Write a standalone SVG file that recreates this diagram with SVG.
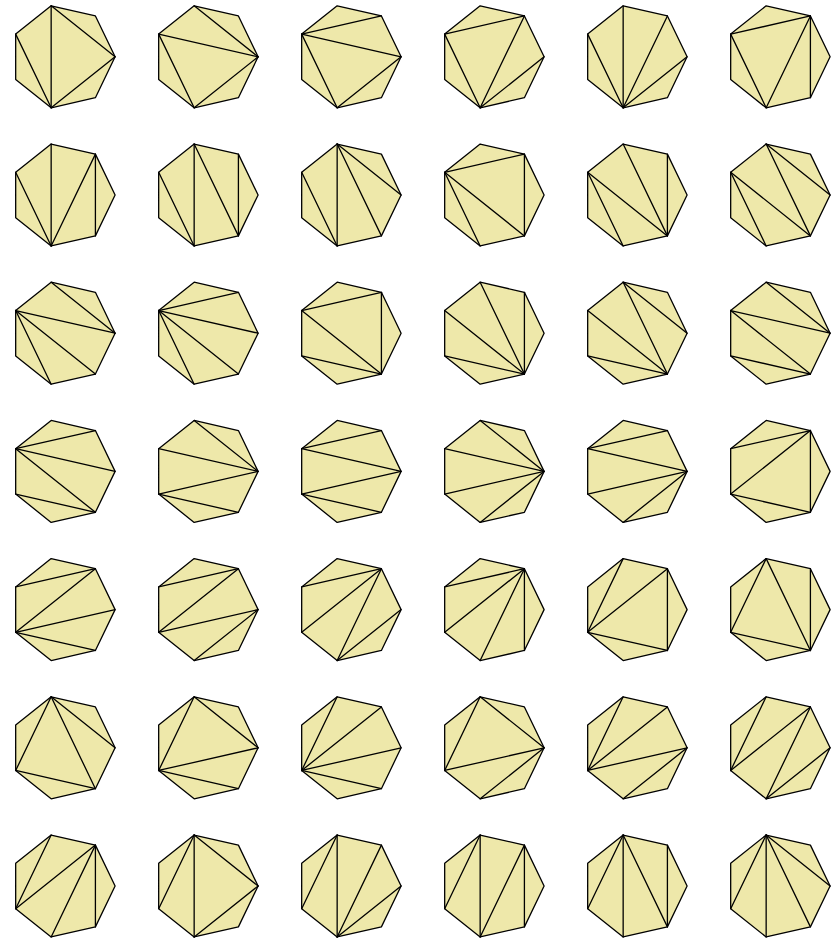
<svg xmlns="http://www.w3.org/2000/svg" xmlns:xlink="http://www.w3.org/1999/xlink" width="836" height="939" viewBox="0 0 836 939">
<style>
.hep{fill:#EEE8AA;stroke:#000;stroke-width:1.3;stroke-linejoin:round}
.dg{stroke:#000;stroke-width:1.3;stroke-linecap:round;fill:none}
</style>
<defs>
<polygon id="hep" class="hep" points="52.3,0 32.61,-40.89 -11.64,-50.99 -47.12,-22.69 -47.12,22.69 -11.64,50.99 32.61,40.89"/>
<line id="d02" class="dg" x1="52.3" y1="0" x2="-11.64" y2="-50.99"/>
<line id="d03" class="dg" x1="52.3" y1="0" x2="-47.12" y2="-22.69"/>
<line id="d04" class="dg" x1="52.3" y1="0" x2="-47.12" y2="22.69"/>
<line id="d05" class="dg" x1="52.3" y1="0" x2="-11.64" y2="50.99"/>
<line id="d13" class="dg" x1="32.61" y1="-40.89" x2="-47.12" y2="-22.69"/>
<line id="d14" class="dg" x1="32.61" y1="-40.89" x2="-47.12" y2="22.69"/>
<line id="d15" class="dg" x1="32.61" y1="-40.89" x2="-11.64" y2="50.99"/>
<line id="d16" class="dg" x1="32.61" y1="-40.89" x2="32.61" y2="40.89"/>
<line id="d24" class="dg" x1="-11.64" y1="-50.99" x2="-47.12" y2="22.69"/>
<line id="d25" class="dg" x1="-11.64" y1="-50.99" x2="-11.64" y2="50.99"/>
<line id="d26" class="dg" x1="-11.64" y1="-50.99" x2="32.61" y2="40.89"/>
<line id="d35" class="dg" x1="-47.12" y1="-22.69" x2="-11.64" y2="50.99"/>
<line id="d36" class="dg" x1="-47.12" y1="-22.69" x2="32.61" y2="40.89"/>
<line id="d46" class="dg" x1="-47.12" y1="22.69" x2="32.61" y2="40.89"/>
</defs>

<!-- Row 1 -->
<g id="t1" transform="translate(62.8,56.8)"><use href="#hep"/><use href="#d25"/><use href="#d02"/><use href="#d05"/><use href="#d35"/></g>
<g id="t2" transform="translate(205.8,56.8)"><use href="#hep"/><use href="#d02"/><use href="#d03"/><use href="#d35"/><use href="#d05"/></g>
<g id="t3" transform="translate(348.8,56.8)"><use href="#hep"/><use href="#d13"/><use href="#d03"/><use href="#d35"/><use href="#d05"/></g>
<g id="t4" transform="translate(491.8,56.8)"><use href="#hep"/><use href="#d13"/><use href="#d35"/><use href="#d15"/><use href="#d05"/></g>
<g id="t5" transform="translate(634.8,56.8)"><use href="#hep"/><use href="#d25"/><use href="#d35"/><use href="#d15"/><use href="#d05"/></g>
<g id="t6" transform="translate(777.8,56.8)"><use href="#hep"/><use href="#d13"/><use href="#d35"/><use href="#d15"/><use href="#d16"/></g>

<!-- Row 2 -->
<g id="t7" transform="translate(62.8,195)"><use href="#hep"/><use href="#d25"/><use href="#d35"/><use href="#d15"/><use href="#d16"/></g>
<g id="t8" transform="translate(205.8,195)"><use href="#hep"/><use href="#d25"/><use href="#d35"/><use href="#d26"/><use href="#d16"/></g>
<g id="t9" transform="translate(348.8,195)"><use href="#hep"/><use href="#d25"/><use href="#d35"/><use href="#d26"/><use href="#d02"/></g>
<g id="t10" transform="translate(491.8,195)"><use href="#hep"/><use href="#d13"/><use href="#d35"/><use href="#d36"/><use href="#d16"/></g>
<g id="t11" transform="translate(634.8,195)"><use href="#hep"/><use href="#d35"/><use href="#d36"/><use href="#d26"/><use href="#d16"/></g>
<g id="t12" transform="translate(777.8,195)"><use href="#hep"/><use href="#d02"/><use href="#d26"/><use href="#d36"/><use href="#d35"/></g>

<!-- Row 3 -->
<g id="t13" transform="translate(62.8,333.2)"><use href="#hep"/><use href="#d02"/><use href="#d03"/><use href="#d36"/><use href="#d35"/></g>
<g id="t14" transform="translate(205.8,333.2)"><use href="#hep"/><use href="#d13"/><use href="#d03"/><use href="#d36"/><use href="#d35"/></g>
<g id="t15" transform="translate(348.8,333.2)"><use href="#hep"/><use href="#d13"/><use href="#d16"/><use href="#d36"/><use href="#d46"/></g>
<g id="t16" transform="translate(491.8,333.2)"><use href="#hep"/><use href="#d26"/><use href="#d16"/><use href="#d36"/><use href="#d46"/></g>
<g id="t17" transform="translate(634.8,333.2)"><use href="#hep"/><use href="#d26"/><use href="#d02"/><use href="#d36"/><use href="#d46"/></g>
<g id="t18" transform="translate(777.8,333.2)"><use href="#hep"/><use href="#d02"/><use href="#d03"/><use href="#d36"/><use href="#d46"/></g>

<!-- Row 4 -->
<g id="t19" transform="translate(62.8,471.4)"><use href="#hep"/><use href="#d13"/><use href="#d03"/><use href="#d36"/><use href="#d46"/></g>
<g id="t20" transform="translate(205.8,471.4)"><use href="#hep"/><use href="#d02"/><use href="#d03"/><use href="#d04"/><use href="#d46"/></g>
<g id="t21" transform="translate(348.8,471.4)"><use href="#hep"/><use href="#d13"/><use href="#d03"/><use href="#d04"/><use href="#d46"/></g>
<g id="t22" transform="translate(491.8,471.4)"><use href="#hep"/><use href="#d02"/><use href="#d03"/><use href="#d04"/><use href="#d05"/></g>
<g id="t23" transform="translate(634.8,471.4)"><use href="#hep"/><use href="#d13"/><use href="#d03"/><use href="#d04"/><use href="#d05"/></g>
<g id="t24" transform="translate(777.8,471.4)"><use href="#hep"/><use href="#d13"/><use href="#d14"/><use href="#d46"/><use href="#d16"/></g>

<!-- Row 5 -->
<g id="t25" transform="translate(62.8,609.6)"><use href="#hep"/><use href="#d13"/><use href="#d14"/><use href="#d04"/><use href="#d46"/></g>
<g id="t26" transform="translate(205.8,609.6)"><use href="#hep"/><use href="#d13"/><use href="#d14"/><use href="#d04"/><use href="#d05"/></g>
<g id="t27" transform="translate(348.8,609.6)"><use href="#hep"/><use href="#d13"/><use href="#d14"/><use href="#d15"/><use href="#d05"/></g>
<g id="t28" transform="translate(491.8,609.6)"><use href="#hep"/><use href="#d13"/><use href="#d14"/><use href="#d15"/><use href="#d16"/></g>
<g id="t29" transform="translate(634.8,609.6)"><use href="#hep"/><use href="#d24"/><use href="#d14"/><use href="#d16"/><use href="#d46"/></g>
<g id="t30" transform="translate(777.8,609.6)"><use href="#hep"/><use href="#d24"/><use href="#d26"/><use href="#d16"/><use href="#d46"/></g>

<!-- Row 6 -->
<g id="t31" transform="translate(62.8,747.8)"><use href="#hep"/><use href="#d24"/><use href="#d26"/><use href="#d02"/><use href="#d46"/></g>
<g id="t32" transform="translate(205.8,747.8)"><use href="#hep"/><use href="#d24"/><use href="#d02"/><use href="#d04"/><use href="#d46"/></g>
<g id="t33" transform="translate(348.8,747.8)"><use href="#hep"/><use href="#d24"/><use href="#d14"/><use href="#d04"/><use href="#d46"/></g>
<g id="t34" transform="translate(491.8,747.8)"><use href="#hep"/><use href="#d24"/><use href="#d02"/><use href="#d04"/><use href="#d05"/></g>
<g id="t35" transform="translate(634.8,747.8)"><use href="#hep"/><use href="#d24"/><use href="#d14"/><use href="#d04"/><use href="#d05"/></g>
<g id="t36" transform="translate(777.8,747.8)"><use href="#hep"/><use href="#d24"/><use href="#d14"/><use href="#d15"/><use href="#d05"/></g>

<!-- Row 7 -->
<g id="t37" transform="translate(62.8,886)"><use href="#hep"/><use href="#d24"/><use href="#d14"/><use href="#d15"/><use href="#d16"/></g>
<g id="t38" transform="translate(205.8,886)"><use href="#hep"/><use href="#d24"/><use href="#d25"/><use href="#d02"/><use href="#d05"/></g>
<g id="t39" transform="translate(348.8,886)"><use href="#hep"/><use href="#d24"/><use href="#d25"/><use href="#d15"/><use href="#d05"/></g>
<g id="t40" transform="translate(491.8,886)"><use href="#hep"/><use href="#d24"/><use href="#d25"/><use href="#d15"/><use href="#d16"/></g>
<g id="t41" transform="translate(634.8,886)"><use href="#hep"/><use href="#d24"/><use href="#d25"/><use href="#d26"/><use href="#d16"/></g>
<g id="t42" transform="translate(777.8,886)"><use href="#hep"/><use href="#d24"/><use href="#d25"/><use href="#d26"/><use href="#d02"/></g>
</svg>
